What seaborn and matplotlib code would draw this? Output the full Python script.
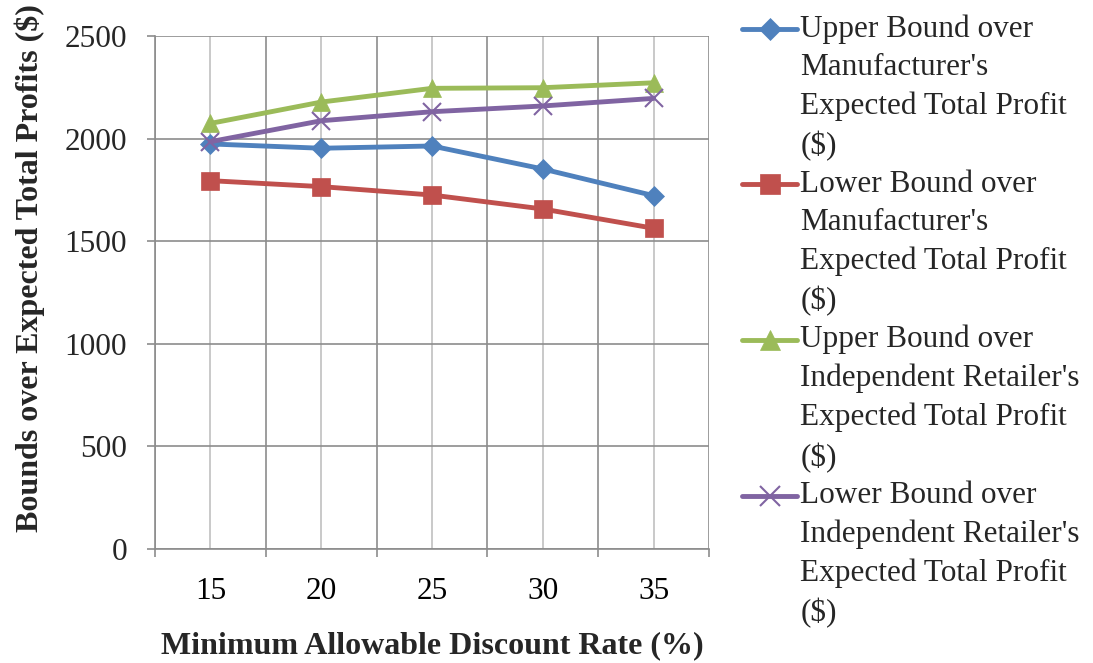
import matplotlib
matplotlib.use("Agg")
import matplotlib.pyplot as plt
from matplotlib.ticker import MultipleLocator, FixedLocator
from matplotlib.legend_handler import HandlerLine2D
from matplotlib.transforms import Affine2D
import seaborn as sns
import pandas as pd

# ---- data ----
discount_rates = [15, 20, 25, 30, 35]
upper_manufacturer = [1974, 1953, 1964, 1852, 1722]
lower_manufacturer = [1795, 1766, 1725, 1657, 1563]
upper_retailer = [2074, 2178, 2245, 2248, 2272]
lower_retailer = [1985, 2087, 2131, 2159, 2196]

series_names = [
    "Upper Bound over\nManufacturer's\nExpected Total Profit\n($)",
    "Lower Bound over\nManufacturer's\nExpected Total Profit\n($)",
    "Upper Bound over\nIndependent Retailer's\nExpected Total Profit\n($)",
    "Lower Bound over\nIndependent Retailer's\nExpected Total Profit\n($)",
]
series_values = [upper_manufacturer, lower_manufacturer, upper_retailer, lower_retailer]

rows = []
for name, vals in zip(series_names, series_values):
    for x, v in zip(discount_rates, vals):
        rows.append({"rate": x, "value": v, "series": name})
df = pd.DataFrame(rows)

colors = ["#4F81BD", "#C0504D", "#9BBB59", "#8064A2"]
markers = ["D", "s", "^", "x"]
msizes = {"D": 10, "s": 13, "^": 13, "x": 13}

sns.set_style("white")
plt.rcParams["font.family"] = ["Liberation Serif", "DejaVu Serif"]

fig = plt.figure(figsize=(10.93, 6.63), dpi=100)
ax = fig.add_axes([155 / 1093, 1 - 549 / 663, (709 - 155) / 1093, (549 - 36) / 663])

for name, col, mk in zip(series_names, colors, markers):
    sub = df[df["series"] == name]
    sns.lineplot(data=sub, x="rate", y="value", ax=ax, color=col, marker=mk,
                 markersize=msizes[mk], markeredgecolor=col,
                 markeredgewidth=1.5 if mk == "x" else 0.5,
                 linewidth=3.5, label=name.replace("$", r"\$"), legend=False)

ax.set_xlim(12.5, 37.5)
ax.set_ylim(0, 2500)
ax.yaxis.set_major_locator(MultipleLocator(500))
ax.xaxis.set_major_locator(FixedLocator(discount_rates))
ax.xaxis.set_minor_locator(FixedLocator([12.5, 17.5, 22.5, 27.5, 32.5, 37.5]))

grid_dark = "#8C8C8C"
ax.grid(True, which="major", axis="y", color=grid_dark, linewidth=1.2)
ax.grid(True, which="major", axis="x", color="#C0C0C0", linewidth=1.2)
ax.grid(True, which="minor", axis="x", color=grid_dark, linewidth=1.2)
ax.set_axisbelow(True)

for side in ["top", "right"]:
    ax.spines[side].set_visible(False)
for side in ["left", "bottom"]:
    ax.spines[side].set_color(grid_dark)
    ax.spines[side].set_linewidth(1.2)

ax.tick_params(axis="x", which="major", length=0, labelsize=22.5, pad=20, colors="black")
ax.tick_params(axis="x", which="minor", length=6, width=1.2, color=grid_dark, direction="out", bottom=True)
ax.tick_params(axis="y", which="major", length=6, width=1.2, color=grid_dark, direction="out",
               labelsize=22.5, pad=14, left=True)

ax.set_xlabel("Minimum Allowable Discount Rate (%)", fontsize=23, fontweight="bold")
ax.set_ylabel("Bounds over Expected Total Profits (\\$)", fontsize=23, fontweight="bold")
ax.xaxis.set_label_coords(0.5, -(631 - 549) / 513)
ax.yaxis.set_label_coords((45 - 155) / 554, (549 - 268) / 513)


class TopLineHandler(HandlerLine2D):
    def __init__(self, dy, **kw):
        super().__init__(**kw)
        self.dy = dy

    def create_artists(self, legend, orig_handle, xdescent, ydescent, width, height, fontsize, trans):
        shifted = Affine2D().translate(0, self.dy) + trans
        return super().create_artists(legend, orig_handle, xdescent, ydescent, width, height,
                                      fontsize, shifted)


handles, labels = ax.get_legend_handles_labels()
leg = fig.legend(handles, labels, loc="upper left", bbox_to_anchor=(742 / 1093, 1 - 14 / 663),
                 frameon=False, fontsize=22.5, handlelength=1.76, handletextpad=0.1,
                 labelspacing=0.26, borderpad=0, borderaxespad=0, markerscale=1.12,
                 handler_map={h: TopLineHandler(42.5) for h in handles})
for t in leg.get_texts():
    t.set_linespacing(1.43)

fig.savefig("out.png", dpi=100)
